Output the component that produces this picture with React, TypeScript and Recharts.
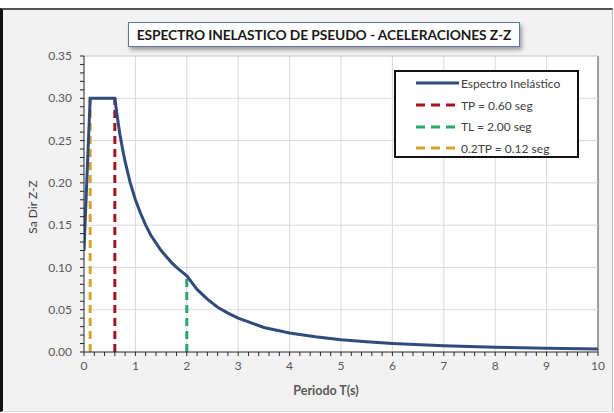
import React from 'react';
import { ComposedChart, Line, XAxis, YAxis, CartesianGrid, ReferenceLine } from 'recharts';

// Espectro inelastico Z-Z
const periods = [0, 0.12, 0.6, 0.65, 0.7, 0.75, 0.8, 0.9, 1.0, 1.1, 1.2, 1.3, 1.4, 1.5, 1.6, 1.7, 1.8, 1.9, 2.0,
  2.2, 2.4, 2.6, 2.8, 3.0, 3.5, 4.0, 4.5, 5.0, 5.5, 6.0, 7.0, 8.0, 9.0, 10.0];
const saValues = [0.12, 0.3, 0.3, 0.277, 0.257, 0.24, 0.225, 0.2, 0.18, 0.164, 0.15, 0.138, 0.129, 0.12, 0.113, 0.106, 0.1, 0.095, 0.09,
  0.074, 0.0625, 0.053, 0.046, 0.04, 0.029, 0.0225, 0.018, 0.0144, 0.012, 0.01, 0.0073, 0.0056, 0.0044, 0.0036];

const xMajorTicks = [0, 1, 2, 3, 4, 5, 6, 7, 8, 9, 10];
const yMajorTicks = [0, 0.05, 0.1, 0.15, 0.2, 0.25, 0.3, 0.35];

// lineas verticales: TP, TL, 0.2TP
const markerNames = ['TP = 0.60 seg', 'TL = 2.00 seg', '0.2TP = 0.12 seg'];
const markerT = [0.6, 2.0, 0.12];
const markerSa = [0.3, 0.09, 0.3];
const markerColors = ['#a0151f', '#27a86a', '#d6a42b'];

const data = periods.map((t, i) => ({ t, sa: saValues[i] }));
const xMinor = Array.from({ length: 51 }, (_, i) => Math.round(i * 20) / 100);
const yMinor = Array.from({ length: 36 }, (_, i) => i / 100);

const font = 'Lato, "Open Sans", sans-serif';

const XTick = (props: any) => {
  const { x, y, payload } = props;
  const v = payload.value;
  if (Math.abs(v - Math.round(v)) > 1e-6) return null;
  return (
    <text x={x} y={y} dy="0.71em" textAnchor="middle" fontSize={12} fill="#595959" fontFamily={font}>
      {Math.round(v)}
    </text>
  );
};

const YTick = (props: any) => {
  const { x, y, payload } = props;
  const v = payload.value;
  if (Math.round(v * 100) % 5 !== 0) return null;
  return (
    <text x={x} y={y} dy="0.35em" textAnchor="end" fontSize={12} fill="#595959" fontFamily={font}>
      {v.toFixed(2)}
    </text>
  );
};

const App = () => {
  return (
    <div style={{ position: 'absolute', left: 0, top: 0, width: 614, height: 413, background: '#fff', fontFamily: font }}>
      <div
        style={{
          position: 'absolute', left: 0, top: 8, width: 609, height: 401, background: '#f2f2f2',
          borderLeft: '3px solid #111', borderTop: '2px solid #555', borderRight: '1px solid #bbb', borderBottom: '1px solid #ddd',
        }}
      />
      <div style={{ position: 'absolute', left: 0, top: 0 }}>
        <ComposedChart width={614} height={413} data={data} margin={{ top: 56, right: 16, left: 0, bottom: 31 }}>
          <CartesianGrid horizontal={false} vertical={false} fill="#ffffff" />
          {xMajorTicks.slice(1).map((t) => (
            <ReferenceLine key={'gx' + t} x={t} stroke={t === 10 ? '#404040' : '#d9d9d9'} strokeWidth={1} />
          ))}
          {yMajorTicks.slice(1).map((v) => (
            <ReferenceLine key={'gy' + v} y={v} stroke={v === 0.35 ? '#c8c8c8' : '#d9d9d9'} strokeWidth={1} />
          ))}
          <XAxis
            dataKey="t"
            type="number"
            domain={[0, 10]}
            ticks={xMinor}
            interval={0}
            tick={<XTick />}
            tickSize={4}
            tickMargin={5}
            height={30}
            stroke="#262626"
            tickLine={{ stroke: '#262626' }}
            allowDataOverflow
          />
          <YAxis
            type="number"
            domain={[0, 0.35]}
            ticks={yMinor}
            interval={0}
            tick={<YTick />}
            tickSize={4}
            tickMargin={8}
            width={84}
            stroke="#262626"
            tickLine={{ stroke: '#262626' }}
            allowDataOverflow
          />
          {markerT.map((t, i) => (
            <ReferenceLine
              key={markerNames[i]}
              segment={[{ x: t, y: 0 }, { x: t, y: markerSa[i] }]}
              stroke={markerColors[i]}
              strokeWidth={3}
              strokeDasharray="8 5"
            />
          ))}
          <Line
            type="linear"
            dataKey="sa"
            stroke="#2f4b7c"
            strokeWidth={3}
            dot={false}
            isAnimationActive={false}
          />
        </ComposedChart>
      </div>

      {/* titulo */}
      <div
        style={{
          position: 'absolute', left: 128, top: 22, width: 390, height: 23, border: '1px solid #5a77a6',
          background: '#fff', boxShadow: '2px 3px 4px rgba(0,0,0,0.35)', display: 'flex', alignItems: 'center',
          justifyContent: 'center', fontWeight: 700, fontSize: 13.8, color: '#1a1a1a', whiteSpace: 'nowrap',
          letterSpacing: -0.1,
        }}
      >
        ESPECTRO INELASTICO DE PSEUDO - ACELERACIONES Z-Z
      </div>

      {/* leyenda */}
      <div
        style={{
          position: 'absolute', left: 394, top: 70, width: 181, height: 84, border: '2px solid #111',
          background: '#fff',
        }}
      >
        <div style={{ position: 'absolute', left: 20, top: 3, display: 'flex', alignItems: 'center', height: 16 }}>
          <svg width={44} height={6}><line x1={0} y1={3} x2={43} y2={3} stroke="#2f4b7c" strokeWidth={3} /></svg>
          <span style={{ fontSize: 12, color: '#404040', marginLeft: 1 }}>Espectro Inelástico</span>
        </div>
        {markerNames.map((name, i) => (
          <div key={name} style={{ position: 'absolute', left: 20, top: 25 + i * 21.5, display: 'flex', alignItems: 'center', height: 16 }}>
            <svg width={44} height={6}><line x1={0} y1={3} x2={43} y2={3} stroke={markerColors[i]} strokeWidth={3} strokeDasharray="9 6" /></svg>
            <span style={{ fontSize: 12, color: '#404040', marginLeft: 1 }}>{name}</span>
          </div>
        ))}
      </div>

      {/* titulos de ejes */}
      <div
        style={{
          position: 'absolute', left: 32, top: 207, transform: 'translate(-50%, -50%) rotate(-90deg)',
          fontSize: 12, color: '#404040', whiteSpace: 'nowrap',
        }}
      >
        Sa Dir Z-Z
      </div>
      <div
        style={{
          position: 'absolute', left: 326, top: 390, transform: 'translate(-50%, -50%)',
          fontSize: 12.5, fontWeight: 700, color: '#595959', whiteSpace: 'nowrap',
        }}
      >
        Periodo T(s)
      </div>
    </div>
  );
};

export default App;
